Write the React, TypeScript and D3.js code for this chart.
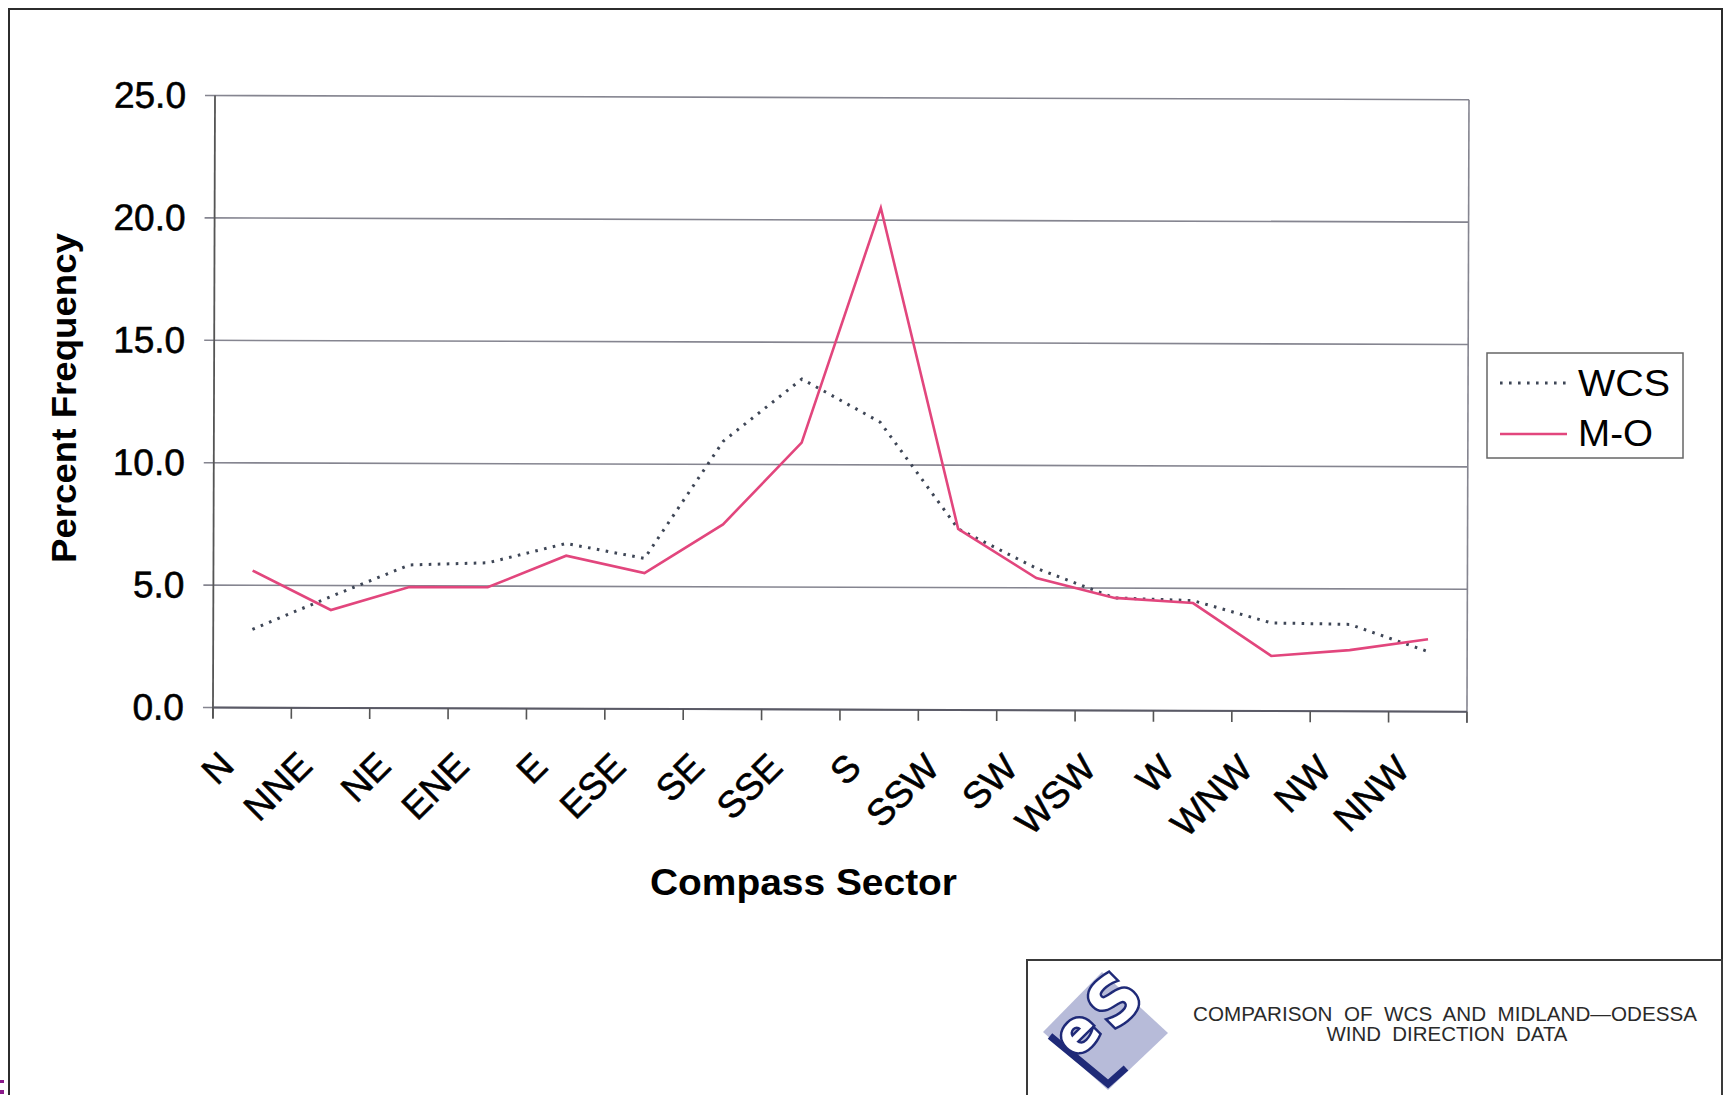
import React from "react";
import * as d3 from "d3";

const sectors = ["N", "NNE", "NE", "ENE", "E", "ESE", "SE", "SSE", "S", "SSW", "SW", "WSW", "W", "WNW", "NW", "NNW"];
const wcsValues = [3.2, 4.55, 5.85, 5.95, 6.75, 6.15, 10.95, 13.5, 11.75, 7.4, 5.8, 4.6, 4.5, 3.6, 3.55, 2.45];
const moValues = [5.6, 4.0, 4.95, 4.95, 6.25, 5.55, 7.55, 10.9, 20.5, 7.4, 5.4, 4.6, 4.4, 2.25, 2.5, 2.95];
const yTicks = [0, 5, 10, 15, 20, 25];
const seriesNames = ["WCS", "M-O"];
const titleLines = ["COMPARISON  OF  WCS  AND  MIDLAND\u2014ODESSA", "WIND  DIRECTION  DATA"];

const PINK = "#e2467d";
const DOT = "#3e4656";
const GRID = "#858590";
const FONT = "'Liberation Sans', Arial, Helvetica, sans-serif";

export default function App() {
  const W = 1733;
  const H = 1095;
  const x = d3.scaleBand<string>().domain(sectors).range([214, 1468]).paddingInner(0).paddingOuter(0);
  const y = d3.scaleLinear().domain([0, 25]).range([709.6, 97.6]);
  const bw = x.bandwidth();
  const cx = (s: string) => (x(s) as number) + bw / 2;

  const line = d3
    .line<number>()
    .x((_, i) => cx(sectors[i]))
    .y((v) => y(v));

  const x0 = x.range()[0];
  const x1 = x.range()[1];
  const boundaries = d3.range(sectors.length + 1).map((i) => x0 + i * bw);

  return (
    <>
      <style>{"body{margin:0;overflow:hidden}"}</style>
      <svg
        width={W}
        height={H}
        viewBox={`0 0 ${W} ${H}`}
        style={{ position: "absolute", left: 0, top: 0, background: "#fff" }}
        fontFamily={FONT}
      >
        <rect x={0} y={0} width={W} height={H} fill="#fff" />
        {/* outer frame */}
        <rect x={9} y={9} width={1713} height={1200} fill="none" stroke="#2c2c2c" strokeWidth={2} />

        <g transform="rotate(0.19 840 400)">
          {/* gridlines */}
          {yTicks.map((t) => (
            <line key={"g" + t} x1={x0 - 10} x2={x1} y1={y(t)} y2={y(t)} stroke={GRID} strokeWidth={1.6} />
          ))}
          {/* axes */}
          <line x1={x0} x2={x0} y1={y(25)} y2={y(0) + 11} stroke="#555" strokeWidth={1.8} />
          <line x1={x1} x2={x1} y1={y(25)} y2={y(0) + 11} stroke={GRID} strokeWidth={1.6} />
          <line x1={x0} x2={x1} y1={y(0)} y2={y(0)} stroke="#5a5a66" strokeWidth={2} />
          {boundaries.map((b, i) => (
            <line key={"t" + i} x1={b} x2={b} y1={y(0)} y2={y(0) + 11} stroke="#555" strokeWidth={1.6} />
          ))}
          {/* y tick labels */}
          {yTicks.map((t) => (
            <text
              key={"yl" + t}
              x={185}
              y={y(t) + 12.5}
              textAnchor="end"
              fontSize={37}
              fill="#000"
              stroke="#000"
              strokeWidth={0.6}
            >
              {t.toFixed(1)}
            </text>
          ))}
          {/* x tick labels */}
          {sectors.map((s) => (
            <text
              key={"xl" + s}
              textAnchor="end"
              fontSize={37}
              fill="#000"
              stroke="#000"
              strokeWidth={0.6}
              transform={`translate(${cx(s) - 16},${y(0) + 60}) rotate(-45)`}
            >
              {s}
            </text>
          ))}
          {/* series */}
          <path
            d={line(wcsValues) as string}
            fill="none"
            stroke={DOT}
            strokeWidth={3}
            strokeDasharray="2.6 6.4"
          />
          <path d={line(moValues) as string} fill="none" stroke={PINK} strokeWidth={2.6} strokeLinejoin="miter" />
        </g>

        {/* axis titles */}
        <text
          transform="translate(76,398) rotate(-90)"
          textAnchor="middle"
          fontSize={35}
          fontWeight="bold"
          fill="#000"
          textLength={330}
          lengthAdjust="spacingAndGlyphs"
        >
          Percent Frequency
        </text>
        <text
          x={650}
          y={895}
          fontSize={36}
          fontWeight="bold"
          fill="#000"
          textLength={307}
          lengthAdjust="spacingAndGlyphs"
        >
          Compass Sector
        </text>

        {/* legend */}
        <rect x={1487} y={353} width={196} height={105} fill="#fff" stroke="#666" strokeWidth={1.5} />
        <line x1={1500} x2={1567} y1={383} y2={383} stroke={DOT} strokeWidth={3} strokeDasharray="2.6 6.4" />
        <text x={1578} y={396} fontSize={36} fill="#000" textLength={92} lengthAdjust="spacingAndGlyphs">
          {seriesNames[0]}
        </text>
        <line x1={1500} x2={1567} y1={434} y2={434} stroke={PINK} strokeWidth={2.6} />
        <text x={1578} y={446} fontSize={36} fill="#000" textLength={75} lengthAdjust="spacingAndGlyphs">
          {seriesNames[1]}
        </text>

        {/* title block */}
        <rect x={1027} y={960} width={695} height={200} fill="#fff" stroke="#3a3a3a" strokeWidth={2} />
        <polygon points="1043,1032 1102,972 1168,1033 1108,1090" fill="#b7bbd9" />
        <path
          d="M1050,1036 L1108,1084 L1126,1068"
          fill="none"
          stroke="#1f2a78"
          strokeWidth={7}
          strokeLinejoin="miter"
        />
        <text
          transform="translate(1090,1046) rotate(-45)"
          textAnchor="middle"
          fontSize={56}
          fontWeight="bold"
          fill="#fff"
          stroke="#1f2a78"
          strokeWidth={5}
          paintOrder="stroke"
          fontFamily="'DejaVu Sans', 'Liberation Sans', sans-serif"
        >
          e
        </text>
        <text
          transform="translate(1130,1016) rotate(-45)"
          textAnchor="middle"
          fontSize={64}
          fontWeight="bold"
          fill="#fff"
          stroke="#1f2a78"
          strokeWidth={5}
          paintOrder="stroke"
          fontFamily="'DejaVu Sans', 'Liberation Sans', sans-serif"
        >
          S
        </text>
        <text
          x={1445}
          y={1021}
          textAnchor="middle"
          fontSize={20}
          fill="#2a2a2a"
          textLength={504}
          lengthAdjust="spacingAndGlyphs"
          style={{ whiteSpace: "pre" }}
        >
          {titleLines[0]}
        </text>
        <text
          x={1447}
          y={1041}
          textAnchor="middle"
          fontSize={20}
          fill="#2a2a2a"
          textLength={241}
          lengthAdjust="spacingAndGlyphs"
          style={{ whiteSpace: "pre" }}
        >
          {titleLines[1]}
        </text>

        {/* stray marks at bottom-left edge */}
        <rect x={0} y={1080} width={4} height={3} fill="#8a1a8a" />
        <rect x={0} y={1090} width={4} height={4} fill="#8a1a8a" />
      </svg>
    </>
  );
}
